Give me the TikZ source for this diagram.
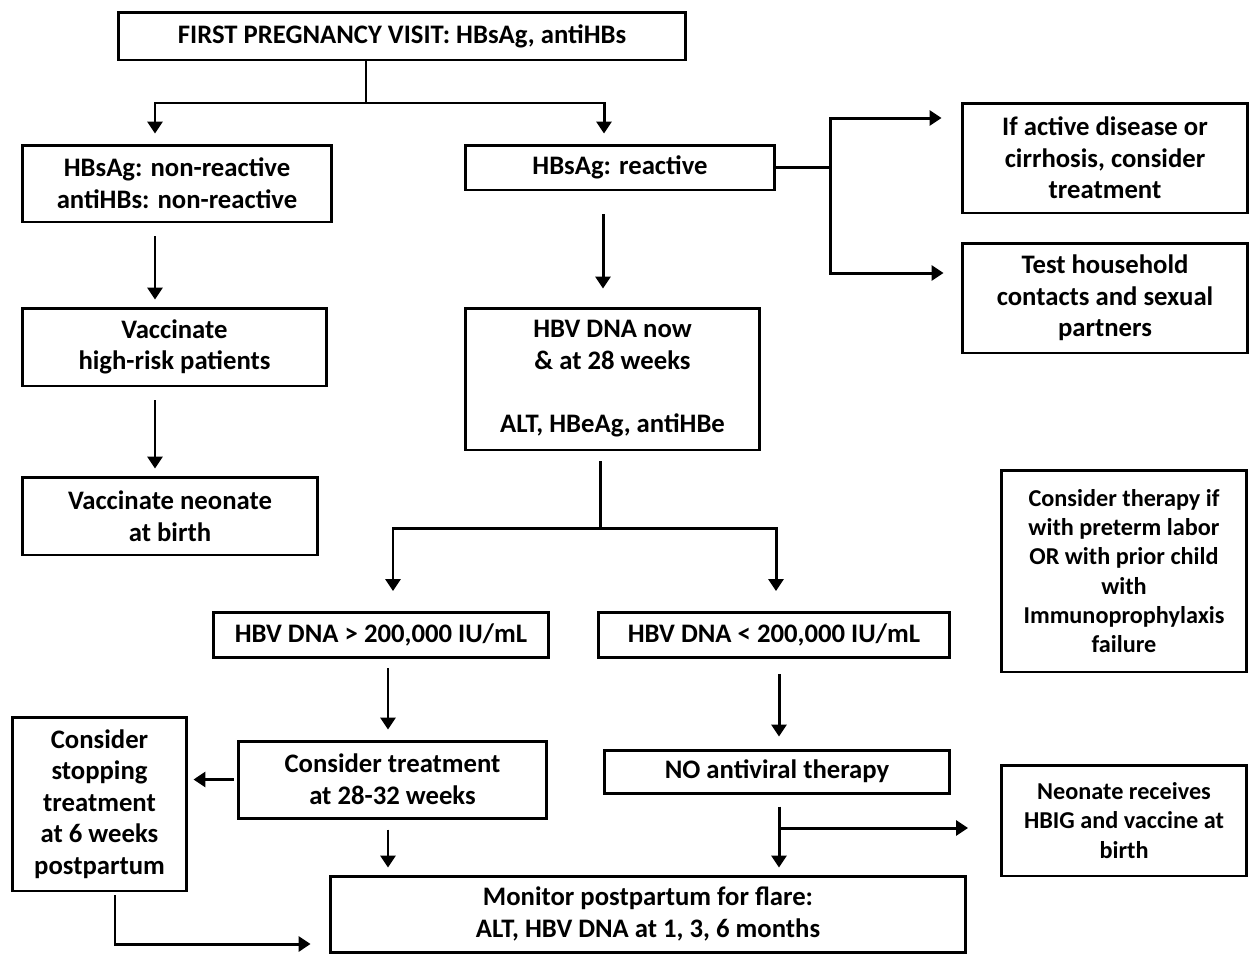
\documentclass[tikz,border=0pt]{standalone}
\usepackage{fontspec}
\setmainfont{Carlito}
\usetikzlibrary{arrows.meta}
\tikzset{>={Triangle[length=0.24cm,width=0.3cm]}}
\tikzset{
  box/.style={draw, line width=1.7pt, align=center, inner sep=0pt,
    font=\bfseries\fontsize{15.2}{18}\selectfont},
  sidebox/.style={box, font=\bfseries\fontsize{13.8}{16.6}\selectfont},
  link/.style={line width=1.7pt},
  flow/.style={link, ->, shorten <=0.26cm, shorten >=0.14cm},
}

\begin{document}
\begin{tikzpicture}[x=0.02cm, y=-0.02cm]
    \useasboundingbox (0,0) rectangle (1250,954);

    % first visit
    \node[box, minimum width=11.36cm, minimum height=0.96cm] (visit) at (402,36)
        {FIRST PREGNANCY VISIT: HBsAg, antiHBs};

    % left column
    \node[box, minimum width=6.2cm, minimum height=1.54cm] (nonreact) at (177,183.5)
        {HBsAg: non-reactive\\antiHBs: non-reactive};
    \node[box, minimum width=6.1cm, minimum height=1.56cm] (vaccrisk) at (174.5,347)
        {Vaccinate\\high-risk patients};
    \node[box, minimum width=5.92cm, minimum height=1.56cm] (vaccneo) at (170,516)
        {Vaccinate neonate\\at birth};

    % middle column
    \node[box, minimum width=6.2cm, minimum height=0.9cm] (react) at (620,167.5)
        {HBsAg: reactive};
    \node[box, minimum width=5.9cm, minimum height=2.84cm] (dnanow) at (612.5,379)
        {HBV DNA now\\\& at 28 weeks\\~\\ALT, HBeAg, antiHBe};
    \node[box, minimum width=6.72cm, minimum height=0.9cm] (high) at (381,635)
        {HBV DNA > 200,000 IU/mL};
    \node[box, minimum width=7.04cm, minimum height=0.9cm] (low) at (774,635)
        {HBV DNA < 200,000 IU/mL};
    \node[box, minimum width=6.18cm, minimum height=1.54cm] (treat) at (392.5,779.5)
        {Consider treatment\\at 28-32 weeks};
    \node[box, minimum width=6.92cm, minimum height=0.86cm] (noav) at (777,771.5)
        {NO antiviral therapy};
    \node[box, minimum width=3.5cm, minimum height=3.48cm] (stop) at (99.5,804)
        {Consider\\stopping\\treatment\\at 6 weeks\\postpartum};
    \node[box, minimum width=12.72cm, minimum height=1.52cm] (monitor) at (648,914)
        {Monitor postpartum for flare:\\ALT, HBV DNA at 1, 3, 6 months};

    % right column
    \node[box, minimum width=5.72cm, minimum height=2.2cm] (active) at (1105,158)
        {If active disease or\\cirrhosis, consider\\treatment};
    \node[box, minimum width=5.72cm, minimum height=2.2cm] (household) at (1105,298)
        {Test household\\contacts and sexual\\partners};
    \node[sidebox, minimum width=4.9cm, minimum height=4.04cm] (preterm) at (1124,571)
        {Consider therapy if\\with preterm labor\\OR with prior child\\with\\Immunoprophylaxis\\failure};
    \node[sidebox, minimum width=4.9cm, minimum height=2.22cm] (neonate) at (1124,820.5)
        {Neonate receives\\HBIG and vaccine at\\birth};

    % split after first visit
    \coordinate (split1) at (366,103);
    \draw[link] (visit.south -| split1) -- (split1);
    \draw[link, ->, shorten >=0.2cm] (split1) -| (nonreact.north -| 155,0);
    \draw[link, ->, shorten >=0.2cm] (split1) -| (react.north -| 604,0);

    % reactive to the right
    \coordinate (split2) at (830,167.5);
    \draw[link] (react.east) -- (split2);
    \draw[link, ->, shorten >=0.38cm] (split2) |- ([yshift=0.8cm]active.west);
    \draw[link, ->, shorten >=0.34cm] (split2) |- ([yshift=0.5cm]household.west);

    % left column arrows
    \draw[flow] (nonreact.south -| 155,0) -- (vaccrisk.north -| 155,0);
    \draw[flow] (vaccrisk.south -| 155,0) -- (vaccneo.north -| 155,0);

    % middle column arrows
    \draw[flow, shorten <=0.46cm, shorten >=0.36cm] (react.south -| 603,0) -- (dnanow.north -| 603,0);
    \coordinate (split3) at (600,528);
    \draw[link, shorten <=0.2cm] (dnanow.south -| split3) -- (split3);
    \draw[link, ->, shorten >=0.4cm] (split3) -| (high.north -| 393,0);
    \draw[link, ->, shorten >=0.4cm] (split3) -| (low.north -| 776,0);
    \draw[flow, shorten <=0.18cm, shorten >=0.2cm] (high.south -| 388,0) -- (treat.north -| 388,0);
    \draw[flow, shorten <=0.3cm, shorten >=0.24cm] (low.south -| 779,0) -- (noav.north -| 779,0);
    \draw[flow, shorten <=0.06cm, shorten >=0.1cm] (treat.west) -- (stop.east |- treat.west);
    \draw[flow, shorten <=0.2cm, shorten >=0.14cm] (treat.south -| 388,0) -- (monitor.north -| 388,0);

    % no antiviral therapy
    \coordinate (split4) at (779,828);
    \draw[flow, shorten <=0.24cm] (noav.south -| split4) -- (monitor.north -| split4);
    \draw[link, ->, shorten >=0.64cm] (split4) -- (neonate.west |- split4);

    % stopping back to monitor
    \draw[link, ->, shorten <=0.06cm, shorten >=0.36cm] (stop.south -| 115,0) |- (monitor.west |- 0,944);
\end{tikzpicture}
\end{document}
